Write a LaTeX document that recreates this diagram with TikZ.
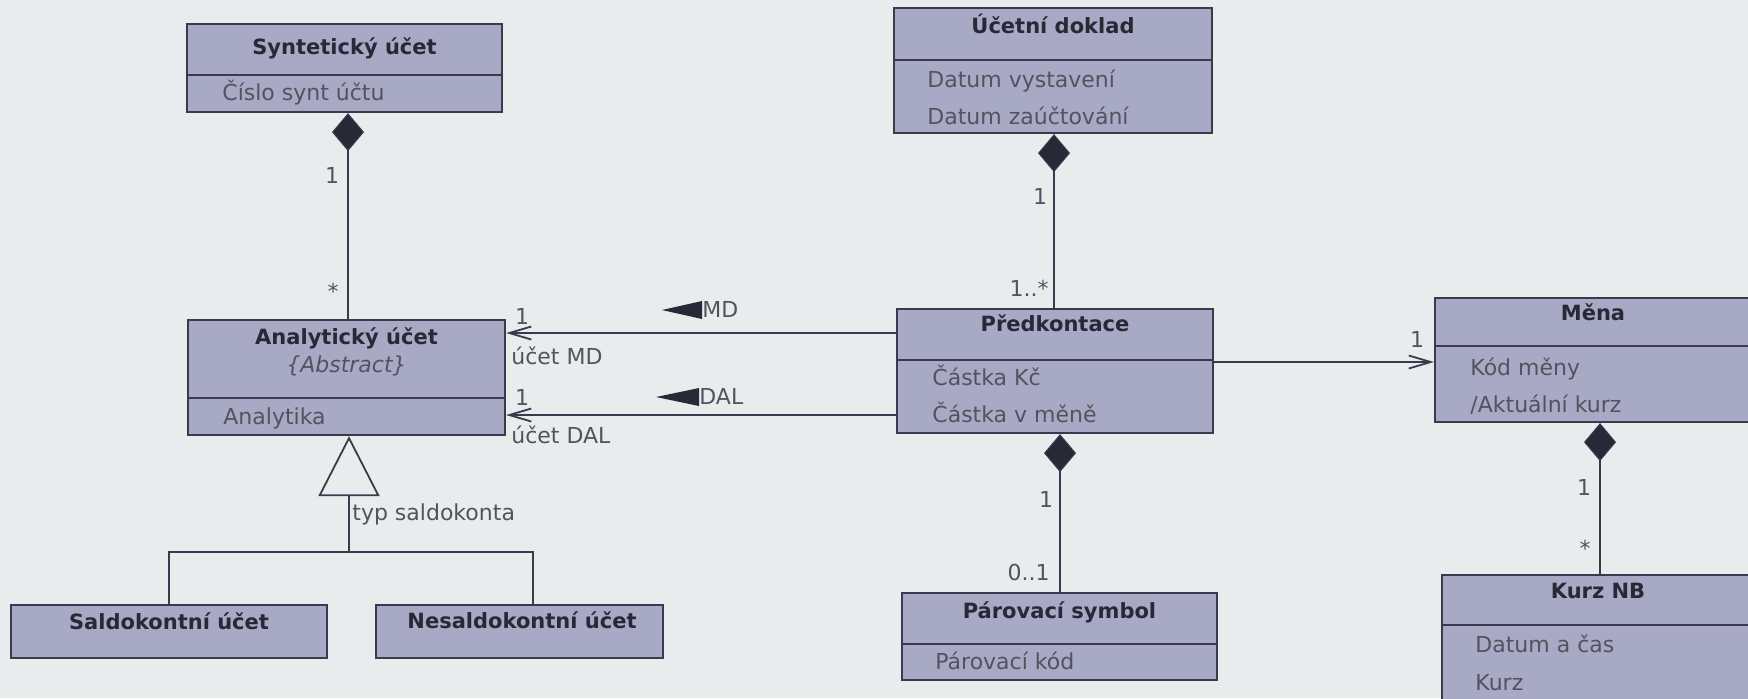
\documentclass[tikz,border=0pt]{standalone}
\usepackage{fontspec}
\setmainfont{DejaVu Sans}
\usetikzlibrary{arrows.meta,fit,calc}
\definecolor{bg}{RGB}{233,236,236}
\definecolor{boxfill}{RGB}{168,169,197}
\definecolor{ink}{RGB}{40,40,55}
\definecolor{edgec}{RGB}{58,58,78}
\newcommand\umlclass[6]{%
  \node[cls, fit={(#2,#3)(#4,#5)}] (#1) {};
  \draw[divline] (#2,#6) -- (#4,#6);}
\newcommand\umlplain[5]{%
  \node[cls, fit={(#2,#3)(#4,#5)}] (#1) {};}
\begin{document}
\begin{tikzpicture}[x=0.5pt,y=-0.5pt,
  cls/.style={draw=edgec, line width=1.1pt, fill=boxfill, inner sep=0pt},
  divline/.style={draw=edgec, line width=1.1pt},
  hdr/.style={font=\bfseries\fontsize{10.5}{12}\selectfont, text=ink, inner sep=0pt, text height=8pt, text depth=1pt},
  attr/.style={font=\fontsize{11}{13}\selectfont, text=ink!80, anchor=west, inner sep=0pt, text height=8pt, text depth=1pt},
  lbl/.style={font=\fontsize{11}{13}\selectfont, text=ink!80, inner sep=0pt, text height=8pt, text depth=1pt},
  conn/.style={draw=edgec, line width=0.9pt},
  comp/.style={conn, {Diamond[length=19pt,width=16pt,fill=ink,line width=0.5pt]}-},
  nav/.style={conn, -{Straight Barb[length=11pt,width=6.5pt,line width=0.9pt]}},
  gen/.style={conn, {Triangle[open,length=30pt,width=30.5pt,line width=0.9pt]}-}
]
\useasboundingbox (0,0) rectangle (1748,698);
\fill[bg] (0,0) rectangle (1748,698);
\clip (0,0) rectangle (1748,698);

% classes
\umlclass{syn}{187}{24}{502}{112}{75}
\node[hdr] (synh) at (344.5,47) {Syntetický účet};
\node[attr] (syna) at (222,93) {Číslo synt účtu};

\umlclass{ana}{188}{320}{505}{435}{398}
\node[hdr] (anah) at (346.5,337) {Analytický účet};
\node[lbl, font=\itshape\fontsize{11}{13}\selectfont] (anas) at (346.5,365) {\{Abstract\}};
\node[attr] (anaa) at (223,417) {Analytika};

\umlplain{sal}{11}{605}{327}{658}
\node[hdr] (salh) at (169,622) {Saldokontní účet};
\umlplain{nes}{376}{605}{663}{658}
\node[hdr] (nesh) at (522,621) {Nesaldokontní účet};

\umlclass{ucd}{894}{8}{1212}{133}{60}
\node[hdr] (ucdh) at (1053,26) {Účetní doklad};
\node[attr] (ucda) at (927,80) {Datum vystavení};
\node[attr] (ucdb) at (927,117) {Datum zaúčtování};

\umlclass{pre}{897}{309}{1213}{433}{360}
\node[hdr] (preh) at (1055,324) {Předkontace};
\node[attr] (prea) at (932,378) {Částka Kč};
\node[attr] (preb) at (932,415) {Částka v měně};

\umlclass{par}{902}{593}{1217}{680}{644}
\node[hdr] (parh) at (1059.5,611) {Párovací symbol};
\node[attr] (para) at (935,662) {Párovací kód};

\umlclass{men}{1435}{298}{1770}{422}{346}
\node[hdr] (menh) at (1593,313) {Měna};
\node[attr] (mena) at (1470,368) {Kód měny};
\node[attr] (menb) at (1470,405) {/Aktuální kurz};

\umlclass{kur}{1442}{575}{1770}{720}{625}
\node[hdr] (kurh) at (1598,591) {Kurz NB};
\node[attr] (kura) at (1475,645) {Datum a čas};
\node[attr] (kurb) at (1475,683) {Kurz};

% helper coordinates
\coordinate (xs) at (348,0);
\coordinate (xu) at (1054,0);
\coordinate (xp) at (1060,0);
\coordinate (xm) at (1600,0);
\coordinate (xn) at (533,0);
\coordinate (ymd) at (0,333);
\coordinate (ydal) at (0,415);
\coordinate (ymen) at (0,362);
\coordinate (j) at (349,552);

% compositions
\draw[comp] (syn.south -| xs) -- (ana.north -| xs);
\node[lbl] (l1) at (332,176) {1};
\node[lbl] (l2) at (333,292) {*};

\draw[comp] (ucd.south -| xu) -- (pre.north -| xu);
\node[lbl] (l3) at (1040,197) {1};
\node[lbl, anchor=east] (l4) at (1049,289) {1..*};

\draw[comp] (pre.south -| xp) -- (par.north -| xp);
\node[lbl] (l5) at (1046,500) {1};
\node[lbl, anchor=east] (l6) at (1050,573) {0..1};

\draw[comp] (men.south -| xm) -- (kur.north -| xm);
\node[lbl] (l7) at (1584,488) {1};
\node[lbl] (l8) at (1585,549) {*};

% navigable associations
\draw[nav] (pre.west |- ymd) -- (ana.east |- ymd);
\node[lbl] (l9) at (522,317) {1};
\node[lbl, anchor=west] (l10) at (511,357) {účet MD};
\node[lbl, anchor=west] (mdl) at (702,310) {MD};
\fill[ink] ($(mdl.west)+(0,-9)$) -- ($(mdl.west)+(0,9)$) -- ($(mdl.west)+(-40,0)$) -- cycle;

\draw[nav] (pre.west |- ydal) -- (ana.east |- ydal);
\node[lbl] (l11) at (522,398) {1};
\node[lbl, anchor=west] (l12) at (511,436) {účet DAL};
\node[lbl, anchor=west] (dall) at (699,397) {DAL};
\fill[ink] ($(dall.west)+(0,-9)$) -- ($(dall.west)+(0,9)$) -- ($(dall.west)+(-43,0)$) -- cycle;

\draw[nav] (pre.east |- ymen) -- (men.west |- ymen);
\node[lbl] (l13) at (1417,340) {1};

% generalization
\draw[gen] (ana.south -| j) -- (j);
\draw[conn] (sal.north) |- (j) -| (nes.north -| xn);
\node[lbl, anchor=west] (l14) at (352,513) {typ saldokonta};
\end{tikzpicture}
\end{document}
